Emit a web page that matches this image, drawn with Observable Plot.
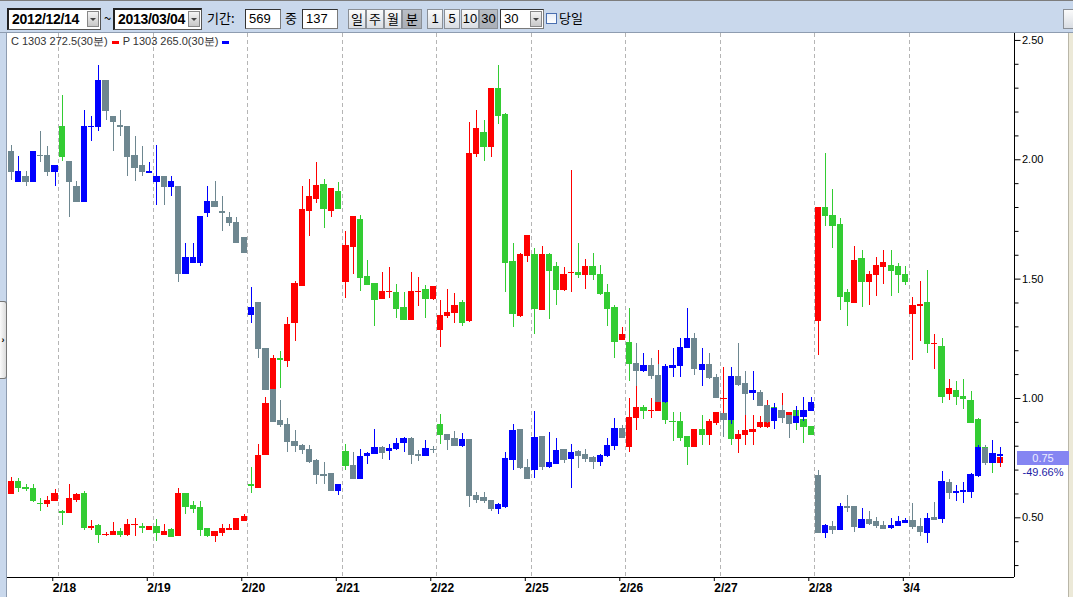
<!DOCTYPE html>
<html><head><meta charset="utf-8">
<script src="https://cdn.jsdelivr.net/npm/d3@7"></script>
<script src="https://cdn.jsdelivr.net/npm/@observablehq/plot@0.6"></script>
<style>
body{margin:0;background:#fff;}
#wrap{position:relative;width:1073px;height:597px;overflow:hidden;font-family:"Liberation Sans",Arial,sans-serif;background:#fff}
#tb{position:absolute;left:0;top:0;width:1073px;height:33px;background:#c9d8ec;border-top:1px solid #7d7d7d;border-bottom:1px solid #8e9cb0;box-sizing:border-box}
.abs{position:absolute;box-sizing:border-box}
.date{background:#fff;border:1px solid #555;border-top:2px solid #222;border-left:2px solid #222;font-weight:bold;font-size:14px;letter-spacing:-0.3px;line-height:18px;padding-left:3px;color:#000}
.dd{position:absolute;top:1px;right:1px;width:12px;height:16px;background:linear-gradient(#f4f4f4,#c8c8c8);border:1px solid #888;box-sizing:border-box}
.dd:after{content:"";position:absolute;left:2px;top:6px;border-left:3px solid transparent;border-right:3px solid transparent;border-top:3px solid #444}
.lbl{font-family:"Noto Sans CJK KR","Liberation Sans",sans-serif;font-size:13px;line-height:20px;color:#000}
.inp{background:#fff;border:1px solid #7a7a7a;border-top:1px solid #333;border-left:1px solid #333;font-size:13px;line-height:18px;padding-left:3px;font-family:"Liberation Sans Narrow","Liberation Sans",sans-serif}
.btn{background:linear-gradient(#fbfbfb,#d9dde3);border:1px solid #8a8f96;font-size:13px;line-height:18px;text-align:center;font-family:"Noto Sans CJK KR","Liberation Sans",sans-serif}
.btn.on{background:linear-gradient(#b9bec6,#a9aeb6)}
.num{font-family:"Liberation Sans Narrow","Liberation Sans",sans-serif}
#chart{position:absolute;left:0;top:33px}
#legend{position:absolute;left:11px;top:34px;font-size:11px;color:#333;white-space:nowrap}
#legend span.k{display:inline-block;width:7px;height:3px;vertical-align:middle;margin:0 4px 0 4px}
#lstrip{position:absolute;left:0;top:33px;width:7px;height:564px;background:#c9d8ec;border-right:1px solid #8e9cb0;box-sizing:border-box}
#lbtn{position:absolute;left:0;top:268px;width:7px;height:78px;background:linear-gradient(90deg,#fafafa,#dcdcdc);border:1px solid #777;border-left:none;border-radius:0 3px 3px 0;box-sizing:border-box;font-size:9px;line-height:76px;text-align:center;font-weight:bold;color:#000}
#rstrip{position:absolute;left:1068px;top:33px;width:5px;height:564px;background:#ece9d8;border-left:1px solid #b9b6a8;box-sizing:border-box}
#pbox{position:absolute;left:1017px;width:52px;height:14px;background:#8585f2;color:#eef;font-size:11px;line-height:14px;text-align:center}
#pchg{position:absolute;left:1017px;width:52px;font-size:11px;line-height:12px;text-align:center;color:#1c1ca6}
</style></head>
<body>
<div id="wrap">
  <div id="tb">
    <div class="abs date" style="left:7px;top:7px;width:94px;height:22px">2012/12/14<span class="dd"></span></div>
    <div class="abs lbl" style="left:104px;top:7px">~</div>
    <div class="abs date" style="left:113px;top:7px;width:89px;height:22px">2013/03/04<span class="dd"></span></div>
    <div class="abs lbl" style="left:207px;top:7px">기간:</div>
    <div class="abs inp" style="left:245px;top:8px;width:36px;height:20px">569</div>
    <div class="abs lbl" style="left:285px;top:7px">중</div>
    <div class="abs inp" style="left:302px;top:8px;width:36px;height:20px">137</div>
    <div class="abs btn" style="left:348px;top:8px;width:18px;height:20px">일</div>
    <div class="abs btn" style="left:366px;top:8px;width:18px;height:20px">주</div>
    <div class="abs btn" style="left:384px;top:8px;width:18px;height:20px">월</div>
    <div class="abs btn on" style="left:402px;top:8px;width:20px;height:20px">분</div>
    <div class="abs btn num" style="left:427px;top:8px;width:16px;height:20px">1</div>
    <div class="abs btn num" style="left:444px;top:8px;width:16px;height:20px">5</div>
    <div class="abs btn num" style="left:461px;top:8px;width:18px;height:20px">10</div>
    <div class="abs btn num on" style="left:479px;top:8px;width:19px;height:20px">30</div>
    <div class="abs inp" style="left:500px;top:8px;width:44px;height:20px">30<span class="dd" style="top:1px"></span></div>
    <div class="abs" style="left:546px;top:12px;width:11px;height:11px;border:1px solid #4a6fb0;background:linear-gradient(#e8eef8,#fff)"></div>
    <div class="abs lbl" style="left:559px;top:7px">당일</div>
    <div class="abs btn" style="left:1063px;top:8px;width:12px;height:20px"></div>
  </div>
  <div id="chart"></div>
  <div id="lstrip"><div id="lbtn">›</div></div>
  <div id="rstrip"></div>
  <div id="legend"></div>
  <div id="pbox"></div>
  <div id="pchg"></div>
</div>
<script>
// ---- Data (30-minute bars, 7 bars on the first partial day, then 13 per day) ----
const firstDayBars = 7, barsPerDay = 13;
const dayLabels = ["2/18","2/19","2/20","2/21","2/22","2/25","2/26","2/27","2/28","3/4"];
const yMajorTicks = [0.5, 1.0, 1.5, 2.0, 2.5];
const yMinorTicks = [0.3,0.4,0.6,0.7,0.8,0.9,1.1,1.2,1.3,1.4,1.6,1.7,1.8,1.9,2.1,2.2,2.3,2.4];
const legendC = "C 1303 272.5(30분)";
const legendP = "P 1303 265.0(30분)";
const lastLabel = "0.75", lastChange = "-49.66%";

const cOpen = [0.598,0.652,0.624,0.622,0.560,0.557,0.569,
0.524,0.521,0.576,0.601,0.459,0.464,0.427,0.427,0.442,0.427,0.470,0.461,0.449,
0.462,0.427,0.449,0.423,0.601,0.551,0.542,0.455,0.423,0.437,0.451,0.449,0.488,
0.636,0.627,0.765,0.980,1.166,1.156,1.315,1.472,1.785,1.836,1.895,1.785,1.865,
1.487,1.635,1.746,1.508,1.479,1.417,1.445,1.440,1.377,1.329,1.445,1.455,1.417,
1.286,1.345,1.358,1.398,1.326,2.026,2.113,2.055,2.295,2.186,1.570,1.344,1.596,
1.599,1.370,1.600,1.549,1.453,1.525,1.527,1.519,1.549,1.519,1.440,1.377,1.246,
0.795,0.918,0.962,0.946,0.947,0.984,0.903,0.901,0.838,0.795,0.867,0.845,0.896,
0.997,0.911,0.831,0.848,0.860,0.882,0.882,0.962,0.918,0.926,0.947,0.911,0.882,
1.326,1.797,1.766,1.727,1.440,1.402,1.584,1.487,1.516,1.552,1.556,1.549,1.519,
1.355,1.388,1.399,1.228,1.217,1.017,1.031,1.006,0.991,0.911,0.792,0.760,0.728];
const cHigh = [0.671,0.663,0.638,0.638,0.579,0.590,0.620,
0.529,0.641,0.601,0.609,0.488,0.474,0.440,0.481,0.455,0.493,0.499,0.478,0.462,
0.491,0.471,0.455,0.624,0.601,0.569,0.569,0.455,0.440,0.470,0.470,0.493,0.513,
0.710,0.809,1.006,1.178,1.198,1.341,1.489,1.890,1.919,1.989,1.919,1.876,1.905,
1.701,1.759,1.766,1.578,1.479,1.527,1.549,1.478,1.443,1.527,1.508,1.472,1.469,
1.411,1.455,1.440,1.411,2.157,2.208,2.164,2.295,2.394,2.193,1.650,1.606,1.679,
1.628,1.637,1.606,1.570,1.549,1.956,1.650,1.584,1.606,1.556,1.476,1.389,1.297,
0.998,1.050,0.969,0.998,1.202,0.984,0.940,0.940,0.838,0.867,0.928,0.911,0.940,
1.130,0.911,0.866,0.928,0.928,0.926,0.991,0.969,1.020,0.940,0.966,0.918,0.882,
1.797,2.026,1.876,1.756,1.455,1.637,1.618,1.533,1.589,1.618,1.618,1.567,1.552,
1.425,1.489,1.535,1.268,1.250,1.079,1.071,1.079,1.031,0.918,0.800,0.760,0.760];
const cLow = [0.598,0.605,0.612,0.566,0.525,0.544,0.569,
0.467,0.521,0.566,0.445,0.445,0.394,0.423,0.427,0.416,0.423,0.423,0.433,0.449,
0.401,0.427,0.416,0.423,0.513,0.518,0.423,0.416,0.398,0.423,0.445,0.449,0.484,
0.601,0.624,0.763,0.980,1.042,1.130,1.239,1.472,1.679,1.817,1.710,1.759,1.793,
1.418,1.519,1.447,1.475,1.300,1.417,1.417,1.334,1.329,1.329,1.385,1.334,1.411,
1.213,1.334,1.312,1.300,1.319,2.011,1.992,2.011,2.149,1.443,1.297,1.341,1.571,
1.268,1.370,1.331,1.389,1.447,1.443,1.501,1.457,1.494,1.431,1.300,1.169,1.242,
0.773,0.864,0.914,0.915,0.947,0.889,0.819,0.819,0.719,0.795,0.802,0.802,0.886,
0.838,0.802,0.769,0.802,0.802,0.875,0.875,0.904,0.918,0.926,0.864,0.813,0.843,
1.181,1.720,1.629,1.370,1.300,1.399,1.380,1.389,1.428,1.476,1.428,1.440,1.472,
1.159,1.240,1.188,1.122,0.981,0.991,0.972,0.952,0.894,0.787,0.750,0.684,0.712];
const cClose = [0.649,0.627,0.622,0.571,0.558,0.571,0.598,
0.522,0.580,0.595,0.459,0.461,0.427,0.429,0.442,0.427,0.471,0.472,0.459,0.462,
0.437,0.440,0.420,0.601,0.547,0.537,0.449,0.423,0.440,0.452,0.453,0.493,0.503,
0.634,0.761,0.977,1.166,1.163,1.309,1.478,1.788,1.846,1.890,1.793,1.876,1.793,
1.637,1.759,1.504,1.475,1.414,1.446,1.447,1.374,1.329,1.446,1.447,1.417,1.469,
1.345,1.360,1.389,1.315,2.026,2.128,2.055,2.295,2.183,1.567,1.355,1.599,1.679,
1.374,1.599,1.533,1.453,1.519,1.527,1.519,1.549,1.519,1.436,1.374,1.236,1.268,
0.918,0.962,0.947,0.948,0.984,0.911,0.901,0.835,0.795,0.867,0.845,0.901,0.940,
0.999,0.831,0.848,0.863,0.870,0.897,0.901,0.918,0.940,0.940,0.926,0.879,0.845,
1.797,1.763,1.724,1.425,1.406,1.577,1.487,1.516,1.556,1.567,1.533,1.516,1.487,
1.388,1.390,1.227,1.230,1.006,1.039,1.006,0.996,0.896,0.792,0.760,0.735,0.749];

const pOpen = [2.033,1.906,1.928,1.906,2.016,2.014,1.948,
2.139,1.992,1.887,1.822,2.137,2.136,2.332,2.181,2.140,2.139,2.014,1.972,1.946,
1.906,1.928,1.884,1.887,1.523,1.567,1.567,1.778,1.825,1.780,1.756,1.737,1.673,
1.351,1.402,1.207,1.035,0.904,0.889,0.819,0.802,0.784,0.736,0.679,0.682,0.612,
0.777,0.719,0.663,0.758,0.768,0.793,0.778,0.787,0.812,0.831,0.763,0.758,0.785,
0.889,0.848,0.831,0.802,0.824,0.590,0.583,0.571,0.535,0.547,0.743,0.867,0.707,
0.700,0.838,0.714,0.726,0.784,0.746,0.775,0.765,0.751,0.732,0.758,0.802,0.872,
1.232,1.144,1.115,1.137,1.096,0.984,1.127,1.137,1.210,1.250,1.120,1.140,1.086,
0.936,0.911,1.089,1.060,1.025,1.025,0.969,0.904,0.947,0.926,0.899,0.923,0.947,
0.675,0.435,0.462,0.448,0.544,0.544,0.459,0.491,0.484,0.467,0.459,0.467,0.477,
0.488,0.462,0.437,0.499,0.496,0.646,0.606,0.610,0.608,0.675,0.790,0.728,0.758];
const pHigh = [2.058,2.014,1.950,2.033,2.117,2.055,1.972,
2.269,1.992,1.909,2.208,2.181,2.394,2.332,2.181,2.205,2.139,2.096,2.055,1.989,
2.058,1.928,1.928,1.887,1.651,1.651,1.759,1.887,1.909,1.846,1.778,1.759,1.673,
1.465,1.402,1.207,1.035,0.991,0.915,0.867,0.809,0.802,0.743,0.732,0.682,0.637,
0.809,0.773,0.787,0.775,0.872,0.797,0.809,0.831,0.838,0.838,0.780,0.824,0.799,
0.933,0.848,0.860,0.853,0.824,0.605,0.605,0.571,0.561,0.775,0.889,0.867,0.743,
0.945,0.838,0.857,0.834,0.784,0.809,0.784,0.787,0.758,0.765,0.831,0.915,0.886,
1.377,1.232,1.188,1.166,1.144,1.144,1.210,1.250,1.377,1.271,1.210,1.188,1.100,
0.936,1.130,1.230,1.115,1.115,1.035,0.969,0.980,0.969,0.926,0.966,1.006,1.006,
0.697,0.474,0.486,0.558,0.595,0.544,0.537,0.528,0.503,0.486,0.499,0.506,0.496,
0.561,0.496,0.518,0.564,0.692,0.659,0.637,0.646,0.685,0.802,0.802,0.826,0.795];
const pLow = [1.912,1.906,1.890,1.906,1.989,1.931,1.890,
1.994,1.759,1.822,1.822,2.077,2.120,2.164,2.036,2.098,1.931,1.909,1.931,1.946,
1.807,1.807,1.848,1.487,1.523,1.567,1.552,1.759,1.803,1.698,1.720,1.651,1.610,
1.315,1.169,1.035,0.901,0.877,0.773,0.773,0.765,0.726,0.641,0.641,0.612,0.595,
0.700,0.663,0.659,0.725,0.768,0.743,0.741,0.780,0.773,0.725,0.736,0.755,0.770,
0.809,0.783,0.802,0.795,0.544,0.558,0.561,0.525,0.515,0.537,0.700,0.703,0.663,
0.663,0.700,0.707,0.722,0.729,0.624,0.707,0.732,0.703,0.714,0.751,0.780,0.835,
1.071,1.050,1.108,1.079,0.984,0.977,1.089,1.089,1.210,1.098,1.052,1.079,1.001,
0.838,0.889,1.050,0.928,0.991,0.969,0.897,0.872,0.897,0.831,0.899,0.904,0.944,
0.438,0.413,0.430,0.445,0.521,0.440,0.459,0.467,0.455,0.449,0.449,0.462,0.477,
0.452,0.423,0.391,0.491,0.477,0.576,0.569,0.558,0.583,0.671,0.719,0.728,0.728];
const pClose = [1.948,1.950,1.906,2.033,2.014,1.948,1.972,
2.011,1.906,1.822,2.139,2.139,2.332,2.205,2.157,2.138,2.011,1.967,1.948,1.948,
1.928,1.884,1.906,1.523,1.589,1.589,1.759,1.825,1.803,1.778,1.734,1.651,1.610,
1.377,1.207,1.035,0.901,0.889,0.816,0.802,0.783,0.732,0.678,0.677,0.612,0.637,
0.719,0.663,0.755,0.768,0.793,0.773,0.790,0.809,0.831,0.762,0.761,0.787,0.783,
0.845,0.828,0.802,0.824,0.590,0.573,0.571,0.539,0.554,0.746,0.864,0.707,0.663,
0.834,0.714,0.729,0.780,0.743,0.773,0.758,0.746,0.732,0.758,0.802,0.872,0.835,
1.144,1.115,1.137,1.096,0.984,1.130,1.134,1.210,1.250,1.122,1.141,1.086,1.001,
0.911,1.089,1.057,1.020,1.030,0.969,0.901,0.955,0.918,0.892,0.923,0.947,0.981,
0.438,0.467,0.448,0.544,0.542,0.462,0.491,0.474,0.464,0.455,0.467,0.481,0.488,
0.462,0.440,0.496,0.491,0.652,0.602,0.608,0.612,0.681,0.792,0.729,0.768,0.765];
// P bars that the source chart paints with the red/green palette (session-opening bars)
const pAltPaletteBars = [7, 46, 59, 85];

// ---- Styling ----
const RED = "#ff0000", GREEN = "#33cc33", BLUE = "#0000ff", GRAY = "#6e8790";

const N = cOpen.length;
function rows(O, H, L, C, useCPalette) {
  return d3.range(N).map(i => {
    const up = C[i] >= O[i];
    const warm = useCPalette(i);
    return {i, o: O[i], h: H[i], l: L[i], c: C[i],
      col: warm ? (up ? RED : GREEN) : (up ? BLUE : GRAY)};
  });
}
const cRows = rows(cOpen, cHigh, cLow, cClose, () => true);
const pRows = rows(pOpen, pHigh, pLow, pClose, i => pAltPaletteBars.includes(i));

const dividers = dayLabels.map((_, k) => firstDayBars + k * barsPerDay - 0.5);
const labelAt = new Map(dividers.map((d, k) => [d, dayLabels[k]]));

const xDomain = [-1.513, 137.9];
const yDomain = [0.25, 2.529];
const half = 0.43;

function candles(data) {
  return [
    Plot.ruleX(data, {x: "i", y1: "l", y2: "h", stroke: "col", strokeWidth: 1, shapeRendering: "crispEdges"}),
    Plot.rect(data, {x1: d => d.i - half, x2: d => d.i + half,
      y1: d => Math.min(d.o, d.c), y2: d => Math.max(d.o, d.c),
      fill: "col", insetTop: -0.5, insetBottom: -0.5, shapeRendering: "crispEdges"})
  ];
}

const chart = Plot.plot({
  width: 1073, height: 564,
  marginLeft: 0, marginRight: 59.5, marginTop: 0, marginBottom: 20,
  x: {type: "linear", domain: xDomain, label: null},
  y: {domain: yDomain, label: null},
  color: {type: "identity"},
  style: {fontFamily: "'Liberation Sans', Arial, sans-serif", fontSize: "11px", background: "transparent", color: "#000"},
  marks: [
    Plot.ruleX(dividers, {stroke: "#b5b5b5", strokeDasharray: "4,3", strokeWidth: 1, shapeRendering: "crispEdges"}),
    ...candles(cRows),
    ...candles(pRows),
    Plot.ruleY([yDomain[0]], {stroke: "#000", strokeWidth: 1, shapeRendering: "crispEdges"}),
    Plot.ruleX([xDomain[1]], {stroke: "#000", strokeWidth: 1, shapeRendering: "crispEdges"}),
    Plot.axisX({anchor: "bottom", ticks: dividers, tickFormat: d => labelAt.get(d), tickSize: 4, tickPadding: 2,
      fontSize: 12, fontWeight: "bold", textAnchor: "start", dx: -6, label: null}),
    Plot.axisY({anchor: "right", ticks: yMajorTicks, tickFormat: d3.format(".2f"), tickSize: 6, tickPadding: 2, fontSize: 11, label: null}),
    Plot.axisY({anchor: "right", ticks: yMinorTicks, tickFormat: () => "", tickSize: 4, label: null})
  ]
});
document.getElementById("chart").appendChild(chart);

// legend
const lg = document.getElementById("legend");
lg.innerHTML = `${legendC}<span class="k" style="background:${RED}"></span>${legendP}<span class="k" style="background:${BLUE}"></span>`;

// last-price tag on the right axis
const yScale = chart.scale("y");
const yLast = 33 + yScale.apply(cClose[N - 1]);
const pb = document.getElementById("pbox");
pb.textContent = lastLabel; pb.style.top = (yLast - 7) + "px";
const pc = document.getElementById("pchg");
pc.textContent = lastChange; pc.style.top = (yLast + 8) + "px";
</script>
</body></html>
